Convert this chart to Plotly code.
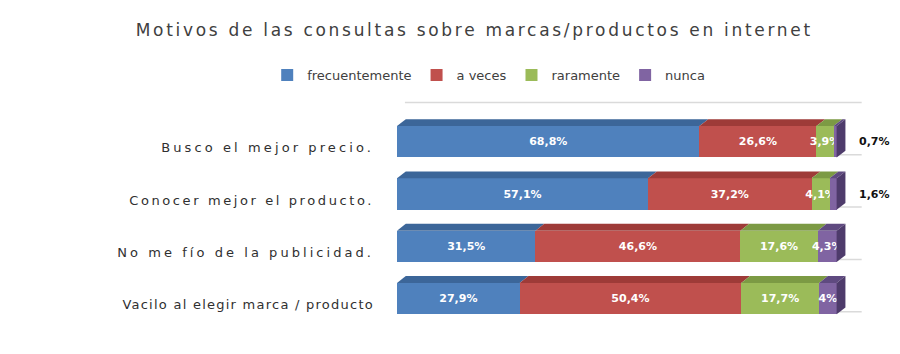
import json
import plotly.graph_objects as go

categories = ["Busco el mejor precio.", "Conocer mejor el producto.",
              "No me fío de la publicidad.", "Vacilo al elegir marca / producto"]
series_names = ["frecuentemente", "a veces", "raramente", "nunca"]
frecuentemente = [68.8, 57.1, 31.5, 27.9]
a_veces = [26.6, 37.2, 46.6, 50.4]
raramente = [3.9, 4.1, 17.6, 17.7]
nunca = [0.7, 1.6, 4.3, 4.0]
labels_frec = ["68,8%", "57,1%", "31,5%", "27,9%"]
labels_aveces = ["26,6%", "37,2%", "46,6%", "50,4%"]
labels_rara = ["3,9%", "4,1%", "17,6%", "17,7%"]
labels_nunca = ["0,7%", "1,6%", "4,3%", "4%"]

colors = ["#4F81BD", "#C0504D", "#9BBB59", "#8064A2"]
top_colors = ["#3C6699", "#9E3B38", "#7C9A44", "#5F4A80"]
series = [frecuentemente, a_veces, raramente, nunca]
labels = [labels_frec, labels_aveces, labels_rara, labels_nunca]

BAR_W = 0.6      # bar thickness in category units
DEPTH_X = 2.0    # 3D depth, x units
DEPTH_Y = 0.13   # 3D depth, category units
OUTSIDE_LIMIT = 2.0
X_RANGE = [0, 106]
Y_RANGE = [3.62, -0.78]
LABEL_SPACING = [3.1, 2.6, 3.05, 1.25]

fig = go.Figure()
for i, (name, vals, txt) in enumerate(zip(series_names, series, labels)):
    shown = [t if not (i == 3 and v < OUTSIDE_LIMIT) else "" for t, v in zip(txt, vals)]
    fig.add_trace(go.Bar(
        y=categories, x=vals, name=name, orientation="h",
        marker=dict(color=colors[i], line=dict(width=0)),
        text=shown, textposition="inside", insidetextanchor="middle",
        textangle=0,
        textfont=dict(family="DejaVu Sans", size=11, color="#FFFFFF", weight="bold"),
        cliponaxis=False, constraintext="none",
    ))

shapes = []
# back wall grid lines
for k in range(len(categories) + 1):
    yb = k - 0.5 - 0.25
    shapes.append(dict(type="line", xref="x", yref="y", x0=1.8, x1=105.7,
                       y0=yb, y1=yb, line=dict(color="#DADADA", width=1.5), layer="below"))
# 3D top faces and right side
for ci in range(len(categories)):
    top = ci - BAR_W / 2
    bottom = ci + BAR_W / 2
    start = 0.0
    for si, vals in enumerate(series):
        end = start + vals[ci]
        path = (f"M {start},{top} L {end},{top} L {end + DEPTH_X},{top - DEPTH_Y} "
                f"L {start + DEPTH_X},{top - DEPTH_Y} Z")
        shapes.append(dict(type="path", xref="x", yref="y", path=path,
                           fillcolor=top_colors[si], line=dict(width=0), layer="above"))
        start = end
    path = (f"M {start},{top} L {start + DEPTH_X},{top - DEPTH_Y} "
            f"L {start + DEPTH_X},{bottom - DEPTH_Y} L {start},{bottom} Z")
    shapes.append(dict(type="path", xref="x", yref="y", path=path,
                       fillcolor="#4E3B6B", line=dict(width=0), layer="above"))

annotations = []
for ci, cat in enumerate(categories):
    if nunca[ci] < OUTSIDE_LIMIT:
        total = round(frecuentemente[ci] + a_veces[ci] + raramente[ci] + nunca[ci], 4)
        annotations.append(dict(x=total, y=cat, xref="x", yref="y",
                                text=labels_nunca[ci],
                                showarrow=False, xanchor="left", xshift=20,
                                font=dict(family="DejaVu Sans", size=11, color="#111111",
                                          weight="bold")))

fig.update_layout(
    barmode="stack",
    width=900, height=354,
    margin=dict(l=397, r=37, t=101, b=23, autoexpand=False),
    paper_bgcolor="white", plot_bgcolor="white",
    bargap=1 - BAR_W,
    uniformtext=dict(minsize=11, mode="show"),
    title=dict(text="Motivos de las consultas sobre marcas/productos en internet",
               x=0.527, xref="container", xanchor="center", y=0.915, yanchor="middle",
               font=dict(family="DejaVu Sans", size=17, color="#404040")),
    legend=dict(orientation="h", x=0.543, xanchor="center", xref="container",
                y=0.788, yanchor="middle", yref="container", traceorder="normal",
                font=dict(family="DejaVu Sans", size=13, color="#404040"),
                itemwidth=30, itemsizing="constant"),
    showlegend=True,
    shapes=shapes,
    annotations=annotations,
)
fig.update_xaxes(range=X_RANGE, showticklabels=False, showgrid=False,
                 zeroline=False, showline=False)
fig.update_yaxes(range=Y_RANGE, showgrid=False, zeroline=False,
                 showline=False, ticks="", ticklabelstandoff=22, ticklabelshift=-6,
                 tickfont=dict(family="DejaVu Sans", size=13, color="#303030"))

spacing_map = {c: s for c, s in zip(categories, LABEL_SPACING)}
post = """
var gd = document.getElementById('{plot_id}');
var sp = %s;
function spacing(){
  gd.querySelectorAll('.gtitle').forEach(function(e){e.style.letterSpacing='2.7px';});
  gd.querySelectorAll('.ytick text').forEach(function(e){
    var v = sp[e.textContent];
    e.style.letterSpacing = (v !== undefined ? v : 1.2) + 'px';
  });
}
spacing();
gd.on('plotly_afterplot', spacing);
""" % (json.dumps(spacing_map))
fig.write_html("out.html", post_script=post)
